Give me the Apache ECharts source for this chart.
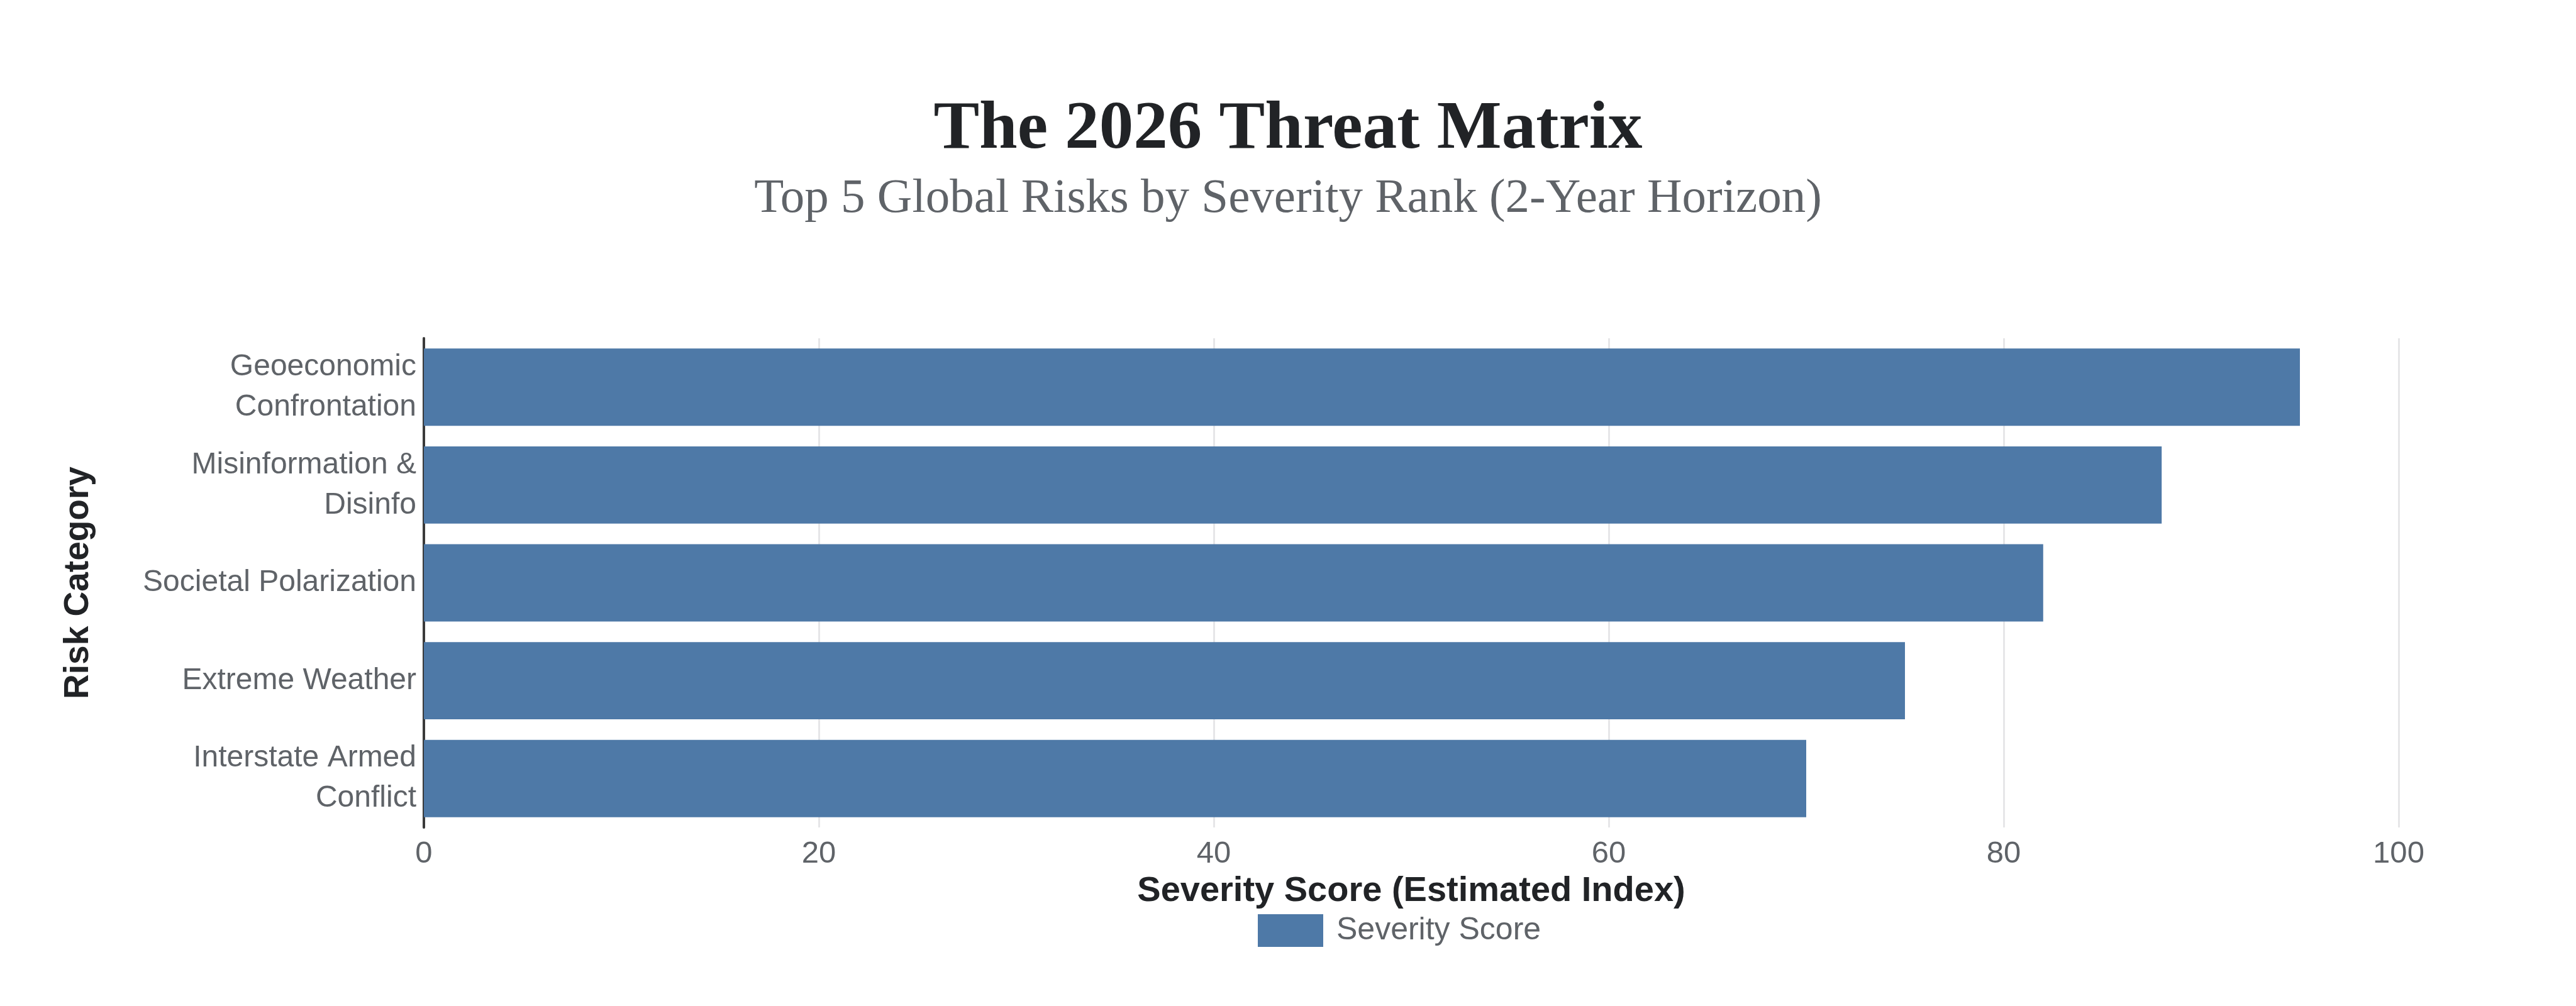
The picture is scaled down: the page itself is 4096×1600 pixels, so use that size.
<!DOCTYPE html>
<html>
<head>
<meta charset="utf-8">
<script src="https://cdn.jsdelivr.net/npm/echarts@6/dist/echarts.min.js"></script>
<style>
html,body{margin:0;padding:0;background:#fff;}
#chart{width:4096px;height:1600px;}
</style>
</head>
<body>
<div id="chart"></div>
<script>
const categories = [
  "Geoeconomic\nConfrontation",
  "Misinformation &\nDisinfo",
  "Societal Polarization",
  "Extreme Weather",
  "Interstate Armed\nConflict"
];
const severityScores = [95, 88, 82, 75, 70];
const seriesName = "Severity Score";
const xTicks = [0, 20, 40, 60, 80, 100];

const chart = echarts.init(document.getElementById('chart'), null, {renderer: 'canvas'});
const option = {
  backgroundColor: '#ffffff',
  animation: false,
  title: [
    {
      text: 'The 2026 Threat Matrix',
      left: 'center',
      top: 147,
      textStyle: {fontFamily: 'Liberation Serif', fontWeight: 'bold', fontSize: 109, color: '#212326'}
    },
    {
      text: 'Top 5 Global Risks by Severity Rank (2-Year Horizon)',
      left: 'center',
      top: 273,
      textStyle: {fontFamily: 'Liberation Serif', fontWeight: 'normal', fontSize: 77, color: '#5f6368'}
    }
  ],
  legend: {
    data: [seriesName],
    left: 2000,
    top: 1454,
    padding: 0,
    icon: 'rect',
    itemWidth: 104,
    itemHeight: 52,
    textStyle: {fontFamily: 'Liberation Sans', fontSize: 50, color: '#5f6368', padding: [0, 0, 0, 16]}
  },
  grid: {left: 674, right: 282, top: 538, bottom: 284, containLabel: false},
  xAxis: {
    type: 'value',
    min: xTicks[0],
    max: xTicks[xTicks.length - 1],
    interval: 20,
    name: 'Severity Score (Estimated Index)',
    nameLocation: 'middle',
    nameGap: 74,
    nameTextStyle: {fontFamily: 'Liberation Sans', fontWeight: 'bold', fontSize: 56, color: '#212326'},
    axisLine: {show: false},
    axisTick: {show: false},
    axisLabel: {fontFamily: 'Liberation Sans', fontSize: 49, color: '#5f6368', margin: 18},
    splitLine: {show: true, lineStyle: {color: '#e6e6e8', width: 3}}
  },
  yAxis: {
    type: 'category',
    inverse: true,
    data: categories,
    name: 'Risk Category',
    nameLocation: 'middle',
    nameGap: 522,
    nameTextStyle: {fontFamily: 'Liberation Sans', fontWeight: 'bold', fontSize: 55, color: '#212326'},
    axisLine: {show: true, lineStyle: {color: '#3a3a3a', width: 4}},
    axisTick: {show: false},
    axisLabel: {fontFamily: 'Liberation Sans', fontSize: 48, color: '#5f6368', margin: 12, lineHeight: 64, align: 'right'},
    splitLine: {show: false}
  },
  series: [{
    name: seriesName,
    type: 'bar',
    data: severityScores,
    barCategoryGap: '21%',
    itemStyle: {color: '#4e79a7'}
  }]
};
chart.setOption(option);
</script>
</body>
</html>
